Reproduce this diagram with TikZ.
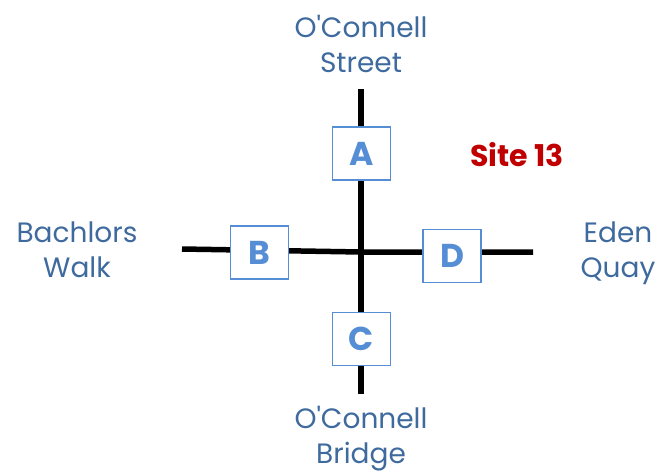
\documentclass[tikz,border=0pt]{standalone}
\usepackage{fontspec}
\setmainfont{Poppins}
\definecolor{txtblue}{HTML}{3E6A9E}
\definecolor{boxblue}{HTML}{558ED5}
\definecolor{sitered}{HTML}{C00000}
\begin{document}
\begin{tikzpicture}[x=1pt,y=-1pt,
  road/.style={line width=5.5pt,black},
  sign/.style={draw=boxblue,line width=1.6pt,fill=white,minimum width=58pt,minimum height=53pt,inner sep=0pt,
    text=boxblue,font=\fontsize{33}{36}\selectfont\bfseries},
  street/.style={text=txtblue,align=center,font=\fontsize{28}{35}\selectfont}]
\useasboundingbox (0,0) rectangle (658,475);
\coordinate (ctr) at (361,252);
\coordinate (top) at (361,89);
\coordinate (bot) at (361,394);
\coordinate (lft) at (182,249);
\coordinate (rgt) at (533,252);
\draw[road] (top) -- (bot);
\draw[road] (lft) -- (ctr) -- (rgt);
\node[sign] (A) at (361.5,153.5) {A};
\node[sign] (B) at (259.5,252.5) {B};
\node[sign] (C) at (361.5,339) {C};
\node[sign] (D) at (452,256) {D};
\node[street] (os) at (361,44) {O\textquotesingle Connell\\Street};
\node[street] (ob) at (361,439) {O\textquotesingle Connell\\Bridge};
\node[street] (bw) at (77,250) {Bachlors\\Walk};
\node[street] (eq) at (618,253) {Eden\\Quay};
\node[text=sitered,font=\fontsize{30}{34}\selectfont\bfseries] (site) at (517,155) {Site 13};
\end{tikzpicture}
\end{document}
